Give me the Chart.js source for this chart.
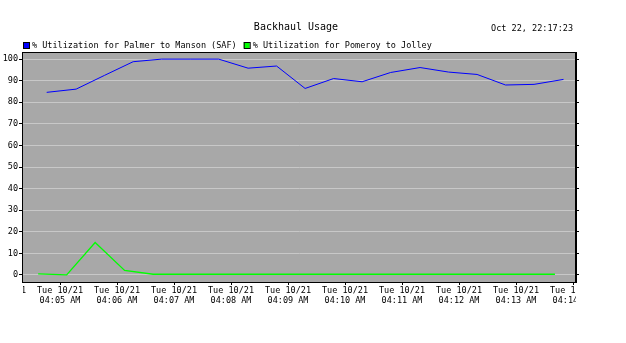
<!DOCTYPE html>
<html>
<head>
<meta charset="utf-8">
<script src="https://cdn.jsdelivr.net/npm/chart.js@4/dist/chart.umd.min.js"></script>
<style>
  html, body { margin: 0; padding: 0; background: #fff; }
  canvas { display: block; }
</style>
</head>
<body>
<canvas id="backhaul" width="626" height="343"></canvas>
<script>
// series data (times read as hh:mm:ss, values in %)
const palmerTimes = ['04:04:46','04:05:17','04:05:47','04:06:17','04:06:47','04:07:17','04:07:47',
  '04:08:18','04:08:48','04:09:18','04:09:48','04:10:18','04:10:48','04:11:19','04:11:49',
  '04:12:19','04:12:49','04:13:19','04:13:50'];
const palmerValues = [84.6, 86.1, 92.5, 98.8, 100, 100, 100, 95.8, 96.8, 86.4, 91.0, 89.5,
  93.8, 96.1, 94.0, 92.9, 88.0, 88.3, 90.6];

const pomeroyTimes = ['04:04:37','04:05:07','04:05:37','04:06:08','04:06:38','04:07:08','04:07:38',
  '04:08:08','04:08:39','04:09:09','04:09:39','04:10:09','04:10:40','04:11:10','04:11:40',
  '04:12:10','04:12:41','04:13:11','04:13:41'];
const pomeroyValues = [0.5, 0.0, 15.0, 2.1, 0.3, 0.3, 0.3, 0.3, 0.3, 0.3, 0.3, 0.3, 0.3,
  0.3, 0.3, 0.3, 0.3, 0.3, 0.3];

const seriesLabels = ['% Utilization for Palmer to Manson (SAF)', '% Utilization for Pomeroy to Jolley'];
const tickMinutes = [4, 5, 6, 7, 8, 9, 10, 11, 12, 13, 14];
const tickDate = 'Tue 10/21';
const titleText = 'Backhaul Usage';
const stampText = 'Oct 22, 22:17:23';

// minutes after 04:00
function toMin(t) {
  const p = t.split(':').map(Number);
  return p[1] + p[2] / 60;
}
function pts(times, vals) {
  return times.map((t, i) => ({ x: toMin(t), y: vals[i] }));
}

const MONO = "'DejaVu Sans Mono', monospace";

// no extra padding from the axis labels, fixed box sizes
function fixBox(size) {
  return s => {
    if (s.isHorizontal()) s.height = size; else s.width = size;
    s.paddingLeft = s.paddingRight = s.paddingTop = s.paddingBottom = 0;
  };
}

// gray plot background, frame, title, stamp, legend
const decor = {
  id: 'decor',
  beforeLayout(chart) {
    const sx = chart.scales.x;
    if (sx && !sx._clipped) {
      const orig = sx.draw;
      sx.draw = function (area) {
        const c = this.ctx;
        c.save();
        c.beginPath();
        c.rect(23, 0, 553, 343);
        c.clip();
        orig.call(this, area);
        c.restore();
      };
      sx._clipped = true;
    }
  },
  beforeDraw(chart) {
    const { ctx, chartArea: a } = chart;
    ctx.save();
    ctx.fillStyle = '#a8a8a8';
    ctx.fillRect(a.left, a.top, a.right - a.left, a.bottom - a.top);
    ctx.restore();
  },
  afterDraw(chart) {
    const { ctx, chartArea: a } = chart;
    ctx.save();
    ctx.strokeStyle = '#000';
    ctx.lineWidth = 1;
    ctx.strokeRect(a.left + 0.5, a.top + 0.5, a.right - a.left - 1, a.bottom - a.top);

    ctx.fillStyle = '#000';
    ctx.textBaseline = 'middle';
    ctx.font = '10px ' + MONO;
    ctx.textAlign = 'center';
    ctx.fillText(titleText, (a.left + a.right) / 2 - 3, 27);
    ctx.font = '8.5px ' + MONO;
    ctx.textAlign = 'right';
    ctx.fillText(stampText, 573, 29);

    ctx.textAlign = 'left';
    let x = 23;
    chart.data.datasets.forEach(ds => {
      ctx.fillStyle = ds.borderColor;
      ctx.fillRect(x, 42, 6, 6);
      ctx.strokeStyle = '#000';
      ctx.strokeRect(x + 0.5, 42.5, 6, 6);
      ctx.fillStyle = '#000';
      ctx.fillText(ds.label, x + 9, 45.5);
      x += 9 + ctx.measureText(ds.label).width + 7;
    });
    ctx.restore();
  }
};

new Chart(document.getElementById('backhaul'), {
  type: 'line',
  data: {
    datasets: [{
      label: seriesLabels[0],
      data: pts(palmerTimes, palmerValues),
      borderColor: '#0000ff',
      borderWidth: 1,
      pointRadius: 0,
      tension: 0
    }, {
      label: seriesLabels[1],
      data: pts(pomeroyTimes, pomeroyValues),
      borderColor: '#00ff00',
      borderWidth: 1.3,
      pointRadius: 0,
      tension: 0
    }]
  },
  options: {
    responsive: false,
    animation: false,
    events: [],
    layout: { padding: { top: 52, left: 0, right: 0, bottom: 0 } },
    plugins: {
      legend: { display: false },
      title: { display: false },
      tooltip: { enabled: false }
    },
    scales: {
      x: {
        type: 'linear',
        min: 4.3333,
        max: 14.0526,
        afterBuildTicks: s => { s.ticks = tickMinutes.map(v => ({ value: v })); },
        afterFit: fixBox(61),
        grid: { drawOnChartArea: false, tickLength: 3, tickColor: '#000' },
        border: { color: '#000' },
        ticks: {
          autoSkip: false,
          maxRotation: 0,
          minRotation: 0,
          padding: 0,
          color: '#000',
          font: { family: MONO, size: 8.5, lineHeight: 1.25 },
          callback: v => [tickDate, '04:' + String(v).padStart(2, '0') + ' AM']
        }
      },
      y: {
        min: -3.3,
        max: 103.3,
        afterFit: fixBox(22),
        grid: { color: '#c8c8c8', tickLength: 3, tickColor: '#000' },
        border: { color: '#000' },
        ticks: {
          stepSize: 10,
          includeBounds: false,
          padding: 1,
          color: '#000',
          font: { family: MONO, size: 8.5 }
        }
      },
      y2: {
        position: 'right',
        min: -3.3,
        max: 103.3,
        afterFit: fixBox(50),
        grid: { drawOnChartArea: false, tickLength: 3, tickColor: '#000' },
        border: { color: '#000' },
        ticks: { stepSize: 10, includeBounds: false, display: false }
      }
    }
  },
  plugins: [decor]
});
</script>
</body>
</html>
